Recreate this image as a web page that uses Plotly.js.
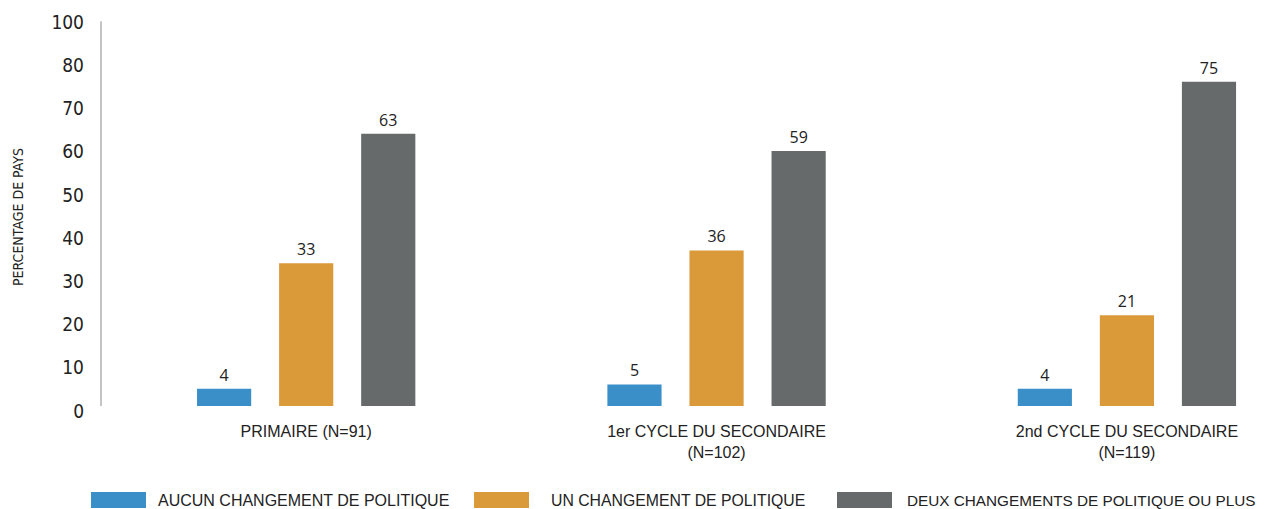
<!DOCTYPE html>
<html>
<head>
<meta charset="utf-8">
<script src="https://cdn.plot.ly/plotly-3.0.1.min.js"></script>
<style>html,body{margin:0;padding:0;background:#fff;}#chart{width:1267px;height:509px;}</style>
</head>
<body>
<div id="chart"></div>
<script>
// ---- data ----
var categories = ["PRIMAIRE (N=91)", "1er CYCLE DU SECONDAIRE<br>(N=102)", "2nd CYCLE DU SECONDAIRE<br>(N=119)"];
var seriesNames = ["AUCUN CHANGEMENT DE POLITIQUE", "UN CHANGEMENT DE POLITIQUE", "DEUX CHANGEMENTS DE POLITIQUE OU PLUS"];
var aucunChangement = [4, 5, 4];
var unChangement = [33, 36, 21];
var deuxChangements = [63, 59, 75];
var yTickVals = [0, 10, 20, 30, 40, 50, 60, 70, 80, 90];
var yTickText = ["0", "10", "20", "30", "40", "50", "60", "70", "80", "100"];
var yAxisTitle = "PERCENTAGE DE PAYS";

// ---- style ----
var colors = ["#3a8fc9", "#db9a39", "#666a6a"];
var W = 1267, H = 509, M = {l: 101, r: 10, t: 17, b: 103};
var PW = W - M.l - M.r, PH = H - M.t - M.b;
function px2x(px) { return (px - M.l) / PW; }
function py2y(py) { return (H - M.b - py) / PH; }

var seriesValues = [aucunChangement, unChangement, deuxChangements];
var traces = seriesValues.map(function (vals, i) {
  return {
    type: "bar",
    name: seriesNames[i],
    x: categories,
    y: vals,
    marker: {color: colors[i]},
    text: vals.map(String),
    textposition: "outside",
    cliponaxis: false,
    textfont: {family: "Open Sans, Noto Sans, sans-serif", size: 16, color: "#222"},
    hoverinfo: "x+y+name",
    showlegend: false
  };
});

// custom legend (wide swatches)
var legendSwatchX = [91, 474, 837];
var legendTextX = [156, 549, 905];
var legendFontSize = [16, 15.8, 15.3];
var shapes = [];
var annotations = [];
seriesNames.forEach(function (n, i) {
  shapes.push({type: "rect", xref: "paper", yref: "paper",
    x0: px2x(legendSwatchX[i]), x1: px2x(legendSwatchX[i] + 55),
    y0: py2y(508), y1: py2y(492), fillcolor: colors[i], line: {width: 0}});
  annotations.push({xref: "paper", yref: "paper", x: px2x(legendTextX[i]), y: py2y(500),
    xanchor: "left", yanchor: "middle", showarrow: false, text: n,
    font: {family: "Liberation Sans, Arial, sans-serif", size: legendFontSize[i], color: "#222"}});
});
// y axis line
shapes.push({type: "line", xref: "paper", yref: "y", x0: 0, x1: 0, y0: 0, y1: 89,
  line: {color: "#8a8a8a", width: 1}});
annotations.push({xref: "paper", yref: "paper", x: px2x(18), y: py2y(217),
  xanchor: "center", yanchor: "middle", showarrow: false, textangle: -90, text: yAxisTitle,
  font: {family: "Liberation Sans Narrow, DejaVu Sans Condensed, Arial Narrow, sans-serif", size: 14, color: "#222"}});

var layout = {
  width: W, height: H,
  margin: M,
  paper_bgcolor: "#fff", plot_bgcolor: "#fff",
  barmode: "group", bargap: 0.4, bargroupgap: 0.34,
  showlegend: false,
  xaxis: {
    type: "category",
    range: [-0.5, 2.317],
    showline: false, showgrid: false, zeroline: false, ticks: "",
    tickfont: {family: "Liberation Sans, Arial, sans-serif", size: 16, color: "#222"},
    ticklabelstandoff: 14
  },
  yaxis: {
    range: [0, 90],
    showline: false, showgrid: false, zeroline: false, ticks: "",
    tickmode: "array", tickvals: yTickVals, ticktext: yTickText,
    tickfont: {family: "Liberation Sans Narrow, DejaVu Sans Condensed, Arial Narrow, sans-serif", size: 19, color: "#222"},
    ticklabelstandoff: 16,
    ticklabelshift: 5
  },
  shapes: shapes,
  annotations: annotations
};

Plotly.newPlot("chart", traces, layout, {displayModeBar: false, staticPlot: true});
</script>
</body>
</html>
